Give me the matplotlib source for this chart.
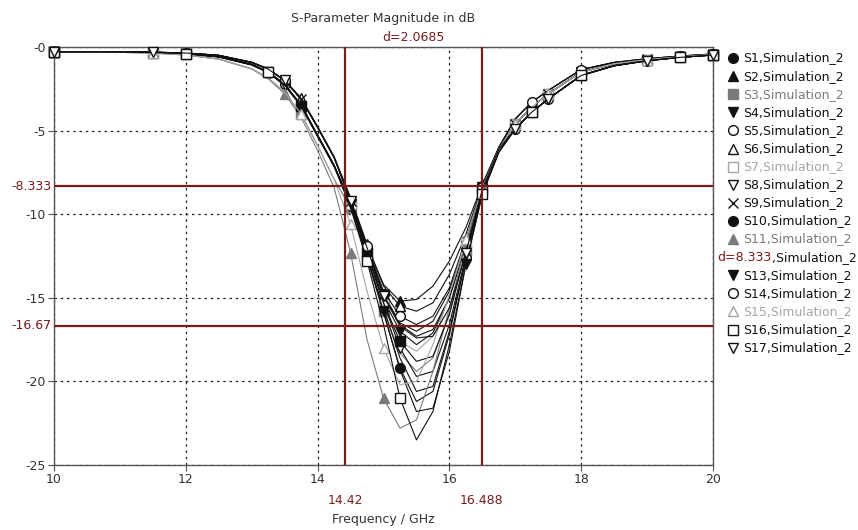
import matplotlib
matplotlib.use("Agg")
import matplotlib.pyplot as plt
from matplotlib.lines import Line2D

# frequency sweep (GHz) and S-parameter magnitudes (dB)
freq = [10, 11, 11.5, 12, 12.5, 13, 13.25, 13.5, 13.75, 14, 14.25, 14.5, 14.75, 15, 15.25,
        15.5, 15.75, 16, 16.25, 16.5, 16.75, 17, 17.25, 17.5, 18, 18.5, 19, 19.5, 20]

s1 = [-0.30, -0.31, -0.33, -0.40, -0.58, -1.05, -1.50, -2.25, -3.50, -5.30, -7.10,
      -9.2, -12.0, -14.8, -16.5, -17.0, -16.4, -14.6, -11.6, -8.4, -6.1,
      -4.6, -3.6, -2.8, -1.50, -1.00, -0.75, -0.58, -0.45]
s2 = [-0.28, -0.30, -0.31, -0.36, -0.50, -0.92, -1.32, -2.00, -3.10, -4.80, -6.60,
      -9.1, -11.9, -14.2, -15.2, -15.1, -14.3, -12.8, -10.8, -8.2, -6.0,
      -4.3, -3.3, -2.6, -1.35, -0.92, -0.70, -0.54, -0.42]
s3 = [-0.30, -0.32, -0.36, -0.48, -0.72, -1.30, -1.85, -2.70, -4.00, -5.90, -7.90,
      -9.6, -12.6, -15.8, -18.3, -19.4, -18.6, -15.9, -12.2, -8.6, -6.2,
      -4.6, -3.6, -2.8, -1.52, -1.02, -0.76, -0.58, -0.46]
s4 = [-0.30, -0.31, -0.34, -0.41, -0.60, -1.08, -1.54, -2.30, -3.55, -5.35, -7.15,
      -9.3, -12.2, -15.1, -17.0, -17.8, -17.1, -15.0, -11.8, -8.4, -6.1,
      -4.6, -3.6, -2.8, -1.50, -1.00, -0.75, -0.57, -0.45]
s5 = [-0.30, -0.31, -0.33, -0.40, -0.57, -1.03, -1.48, -2.22, -3.45, -5.25, -7.05,
      -9.5, -12.5, -15.6, -18.6, -20.6, -20.3, -17.0, -12.6, -8.7, -6.2,
      -4.9, -3.9, -3.1, -1.70, -1.12, -0.82, -0.62, -0.48]
s6 = [-0.28, -0.29, -0.31, -0.35, -0.49, -0.90, -1.30, -1.98, -3.05, -4.75, -6.55,
      -9.0, -11.8, -14.3, -15.5, -15.8, -15.3, -13.6, -11.2, -8.3, -6.0,
      -4.3, -3.3, -2.6, -1.35, -0.92, -0.70, -0.54, -0.42]
s7 = [-0.30, -0.31, -0.33, -0.40, -0.59, -1.06, -1.52, -2.28, -3.52, -5.32, -7.12,
      -9.4, -12.4, -15.4, -17.6, -18.2, -17.3, -15.0, -11.7, -8.4, -6.1,
      -4.6, -3.6, -2.8, -1.50, -1.00, -0.75, -0.58, -0.45]
s8 = [-0.30, -0.31, -0.33, -0.40, -0.58, -1.05, -1.50, -2.25, -3.50, -5.30, -7.10,
      -9.3, -12.3, -15.3, -18.0, -19.7, -19.4, -16.6, -12.5, -8.6, -6.2,
      -4.9, -3.9, -3.1, -1.72, -1.13, -0.83, -0.62, -0.48]
s9 = [-0.28, -0.30, -0.31, -0.36, -0.51, -0.94, -1.34, -2.02, -3.12, -4.82, -6.62,
      -9.2, -12.0, -14.8, -16.6, -17.3, -16.9, -15.0, -11.9, -8.4, -6.1,
      -4.6, -3.6, -2.8, -1.48, -0.98, -0.74, -0.57, -0.45]
s10 = [-0.30, -0.31, -0.33, -0.41, -0.60, -1.07, -1.53, -2.28, -3.54, -5.34, -7.14,
       -9.5, -12.6, -15.9, -19.2, -21.2, -20.6, -17.2, -12.7, -8.7, -6.2,
       -4.9, -3.9, -3.1, -1.70, -1.12, -0.82, -0.62, -0.48]
s11 = [-0.30, -0.32, -0.36, -0.48, -0.73, -1.32, -1.90, -2.80, -4.20, -6.20, -8.40,
       -12.3, -17.5, -21.0, -22.8, -22.3, -19.4, -15.6, -11.8, -8.5, -6.2,
       -4.6, -3.6, -2.8, -1.50, -1.00, -0.75, -0.58, -0.45]
s12 = [-0.30, -0.31, -0.33, -0.40, -0.58, -1.05, -1.50, -2.25, -3.50, -5.30, -7.10,
       -9.3, -12.3, -15.3, -17.6, -18.8, -18.5, -16.0, -12.2, -8.5, -6.1,
       -4.9, -3.9, -3.1, -1.68, -1.10, -0.80, -0.61, -0.47]
s13 = [-0.30, -0.31, -0.33, -0.40, -0.58, -1.04, -1.49, -2.24, -3.48, -5.28, -7.08,
       -9.4, -12.5, -15.8, -19.3, -21.8, -21.6, -18.2, -13.0, -8.8, -6.3,
       -4.9, -3.9, -3.1, -1.70, -1.12, -0.82, -0.62, -0.48]
s14 = [-0.28, -0.30, -0.31, -0.36, -0.50, -0.92, -1.32, -2.00, -3.10, -4.80, -6.60,
       -9.1, -11.9, -14.6, -16.1, -16.6, -16.1, -14.4, -11.5, -8.4, -6.0,
       -4.3, -3.3, -2.6, -1.35, -0.92, -0.70, -0.54, -0.42]
s15 = [-0.30, -0.32, -0.36, -0.48, -0.72, -1.30, -1.85, -2.70, -4.00, -5.90, -7.90,
       -10.6, -14.6, -18.0, -20.2, -20.0, -17.8, -14.8, -11.5, -8.4, -6.1,
       -4.6, -3.6, -2.8, -1.50, -1.00, -0.75, -0.58, -0.45]
s16 = [-0.30, -0.31, -0.33, -0.40, -0.58, -1.05, -1.50, -2.25, -3.50, -5.30, -7.10,
       -9.6, -12.8, -16.6, -21.0, -23.5, -21.8, -17.8, -13.0, -8.8, -6.3,
       -4.9, -3.9, -3.1, -1.70, -1.12, -0.82, -0.62, -0.48]
s17 = [-0.28, -0.30, -0.31, -0.36, -0.50, -0.92, -1.32, -2.00, -3.10, -4.80, -6.60,
       -9.2, -12.0, -14.9, -16.7, -17.4, -17.3, -15.6, -12.3, -8.5, -6.1,
       -4.9, -3.9, -3.1, -1.70, -1.12, -0.82, -0.62, -0.48]

series = [s1, s2, s3, s4, s5, s6, s7, s8, s9, s10, s11, s12, s13, s14, s15, s16, s17]
names = ["S%d,Simulation_2" % (i + 1) for i in range(len(series))]

# marker positions (two vertical, two horizontal)
mark_x = [14.42, 16.488]
mark_y = [-8.333, -16.67]
mark_x_labels = ["14.42", "16.488"]
mark_y_labels = ["-8.333", "-16.67"]
dist_x = "d=2.0685"
dist_y = "d=8.333"

yticks = [0, -5, -10, -15, -20, -25]
ytick_labels = ["-0", "-5", "-10", "-15", "-20", "-25"]
xticks = [10, 12, 14, 16, 18, 20]

# marker, line colour, face colour, legend text colour
BLK = "#111111"
GRY = "#7a7a7a"
LGR = "#a6a6a6"
styles = [
    ("o", BLK, BLK, BLK), ("^", BLK, BLK, BLK), ("s", GRY, GRY, GRY), ("v", BLK, BLK, BLK),
    ("o", BLK, "white", BLK), ("^", BLK, "white", BLK), ("s", LGR, "white", LGR),
    ("v", BLK, "white", BLK), ("x", BLK, BLK, BLK), ("o", BLK, BLK, BLK),
    ("^", GRY, GRY, GRY), ("s", BLK, BLK, BLK), ("v", BLK, BLK, BLK),
    ("o", BLK, "white", BLK), ("^", LGR, "white", LGR), ("s", BLK, "white", BLK),
    ("v", BLK, "white", BLK),
]

MAROON = "#7a1c1c"
TXT = "#333333"
plt.rcParams['font.family'] = 'DejaVu Sans'
plt.rcParams['font.size'] = 9

W, H = 858, 530
fig = plt.figure(figsize=(W / 100, H / 100), dpi=100)
ax = fig.add_axes([54 / W, 1 - 465 / H, (713 - 54) / W, (465 - 47) / H])

for i, vals in enumerate(series):
    m, lc, fc, tc = styles[i]
    idx = [0, 2 + i % 2, 6 + i % 3, 11 + i % 2, 13 + i % 2, 18 + i % 2,
           21 + i % 2, 23 + i % 2, 26 + i % 2, 28]
    ax.plot(freq, vals, color=lc, lw=0.8, marker=m, markevery=idx, ms=7,
            mfc=fc, mec=lc, mew=1.0, zorder=3, clip_on=False)

for xv in mark_x:
    ax.axvline(xv, color=MAROON, lw=1.6, zorder=4)
for yv in mark_y:
    ax.axhline(yv, color=MAROON, lw=1.6, zorder=4)

ax.set_xlim(10, 20)
ax.set_ylim(-25, 0)
ax.set_xticks(xticks)
ax.set_yticks(yticks)
ax.set_yticklabels(ytick_labels)
ax.grid(True, color="#222222", lw=0.9, linestyle=(0, (2, 3)), zorder=1)
ax.set_axisbelow(True)
for sp in ax.spines.values():
    sp.set_color("#555555")
    sp.set_linewidth(1.0)
ax.tick_params(colors="#555555", labelcolor=TXT, length=4, width=0.8, labelsize=9, pad=2)

ax.set_title("S-Parameter Magnitude in dB", fontsize=9, color=TXT, pad=18)
ax.set_xlabel("Frequency / GHz", fontsize=9, color=TXT, labelpad=19)

# marker read-outs
for xv, lab in zip(mark_x, mark_x_labels):
    ax.text(xv, -0.085, lab, transform=ax.get_xaxis_transform(), ha="center", va="center",
            color=MAROON, fontsize=9)
for yv, lab in zip(mark_y, mark_y_labels):
    ax.text(-0.004, yv, lab, transform=ax.get_yaxis_transform(), ha="right", va="center",
            color=MAROON, fontsize=9)
ax.text(sum(mark_x) / 2, 1.006, dist_x, transform=ax.get_xaxis_transform(), ha="center",
        va="bottom", color=MAROON, fontsize=9)

# legend column on the right
for i, name in enumerate(names):
    m, lc, fc, tc = styles[i]
    yf = 1 - (58 + i * 18.1) / H
    if i == 11:
        t1 = fig.text(772 / W, yf, dist_y, color=MAROON, ha="right", va="center", fontsize=9)
        ax.annotate(",Simulation_2", xy=(1, 0.5), xycoords=t1, va="center", ha="left",
                    color=BLK, fontsize=9, annotation_clip=False)
        continue
    fig.add_artist(Line2D([733 / W], [yf], transform=fig.transFigure, marker=m, ms=7,
                          mfc=fc, mec=lc, mew=1.0, ls="none"))
    fig.text(743 / W, yf, name, color=tc, ha="left", va="center", fontsize=9)

plt.savefig("out.png", dpi=100)
